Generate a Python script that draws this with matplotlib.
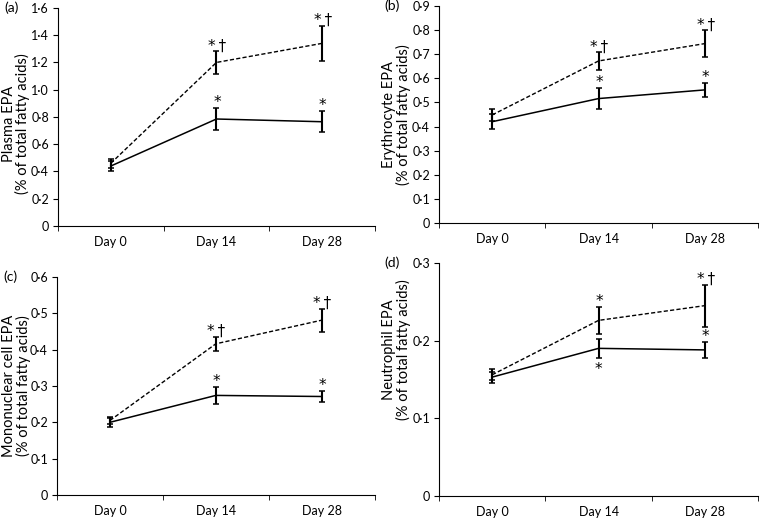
import matplotlib.pyplot as plt
import numpy as np

plt.rcParams['font.family'] = ['Lato', 'DejaVu Sans']

days = ["Day 0", "Day 14", "Day 28"]

# (a) plasma
plasma_dash = [0.46, 1.20, 1.34]
plasma_dash_err = [0.035, 0.083, 0.13]
plasma_solid = [0.44, 0.785, 0.765]
plasma_solid_err = [0.04, 0.08, 0.078]

# (b) erythrocyte
ery_dash = [0.448, 0.672, 0.744]
ery_dash_err = [0.025, 0.037, 0.055]
ery_solid = [0.42, 0.516, 0.552]
ery_solid_err = [0.03, 0.043, 0.03]

# (c) mononuclear cell
mono_dash = [0.205, 0.416, 0.481]
mono_dash_err = [0.01, 0.02, 0.032]
mono_solid = [0.20, 0.274, 0.271]
mono_solid_err = [0.012, 0.023, 0.015]

# (d) neutrophil
neut_dash = [0.156, 0.226, 0.245]
neut_dash_err = [0.007, 0.017, 0.027]
neut_solid = [0.153, 0.19, 0.188]
neut_solid_err = [0.007, 0.012, 0.01]

# significance marks: (day index, series, text, above/below)
marks_a = [(1, "d", "*\u2009\u2020", 1), (2, "d", "*\u2009\u2020", 1), (1, "s", "*", 1), (2, "s", "*", 1)]
marks_b = marks_a
marks_c = marks_a
marks_d = [(1, "d", "*", 1), (2, "d", "*\u2009\u2020", 1), (1, "s", "*", -1), (2, "s", "*", 1)]


def fmt(v):
    if abs(v) < 1e-9:
        return "0"
    return ("%.1f" % v).replace(".", "\u00b7")


def panel(ax, label, ylabel, dash, dash_err, solid, solid_err, ymax, step, marks, lab_pos):
    x = np.arange(len(days))
    ax.errorbar(x, solid, yerr=solid_err, color="black", lw=1.1, capsize=2.2,
                elinewidth=1.5, capthick=1.1)
    ax.errorbar(x, dash, yerr=dash_err, color="black", lw=1.0, ls=(0, (3, 1.6)),
                capsize=2.2, elinewidth=1.5, capthick=1.1)
    ax.set_xlim(-0.5, 2.5)
    ax.set_ylim(0, ymax)
    ticks = np.arange(0, ymax + step / 2, step)
    ax.set_yticks(ticks)
    ax.set_yticklabels([fmt(t) for t in ticks])
    ax.set_xticks(x)
    ax.set_xticklabels(days)
    ax.set_xticks([-0.5, 0.5, 1.5, 2.5], minor=True)
    ax.tick_params(axis="x", which="major", length=0, pad=7, labelsize=9)
    ax.tick_params(axis="x", which="minor", length=3.5, direction="out")
    ax.tick_params(axis="y", length=3.5, labelsize=9, pad=3)
    for s in ["top", "right"]:
        ax.spines[s].set_visible(False)
    ax.set_ylabel(ylabel, fontsize=10.5, linespacing=0.95, va="center")
    ax.yaxis.set_label_coords(*lab_pos)
    for i, ser, txt, side in marks:
        vals, errs = (dash, dash_err) if ser == "d" else (solid, solid_err)
        if side > 0:
            ax.annotate(txt, (i, vals[i] + errs[i]), xytext=(0.5, 0.5), textcoords="offset points",
                        ha="center", va="baseline", fontsize=11, family="DejaVu Sans")
        else:
            ax.annotate(txt, (i, vals[i] - errs[i]), xytext=(0, -3), textcoords="offset points",
                        ha="center", va="top", fontsize=11, family="DejaVu Sans")
    ax.text(-0.17, 1.0, label, transform=ax.transAxes, fontsize=10, va="center")


fig = plt.figure(figsize=(7.6, 5.18), dpi=100)
ax_a = fig.add_axes([0.0763, 0.5637, 0.417, 0.421])
ax_b = fig.add_axes([0.5776, 0.5695, 0.42, 0.419])
ax_c = fig.add_axes([0.075, 0.0444, 0.418, 0.421])
ax_d = fig.add_axes([0.5776, 0.0425, 0.42, 0.45])

panel(ax_a, "(a)", "Plasma EPA\n(% of total fatty acids)", plasma_dash, plasma_dash_err,
      plasma_solid, plasma_solid_err, 1.6, 0.2, marks_a, (-0.132, 0.47))
panel(ax_b, "(b)", "Erythrocyte EPA\n(% of total fatty acids)", ery_dash, ery_dash_err,
      ery_solid, ery_solid_err, 0.9, 0.1, marks_b, (-0.133, 0.5))
panel(ax_c, "(c)", "Mononuclear cell EPA\n(% of total fatty acids)", mono_dash, mono_dash_err,
      mono_solid, mono_solid_err, 0.6, 0.1, marks_c, (-0.127, 0.5))
panel(ax_d, "(d)", "Neutrophil EPA\n(% of total fatty acids)", neut_dash, neut_dash_err,
      neut_solid, neut_solid_err, 0.3, 0.1, marks_d, (-0.133, 0.627))

fig.savefig("out.png", dpi=100)
